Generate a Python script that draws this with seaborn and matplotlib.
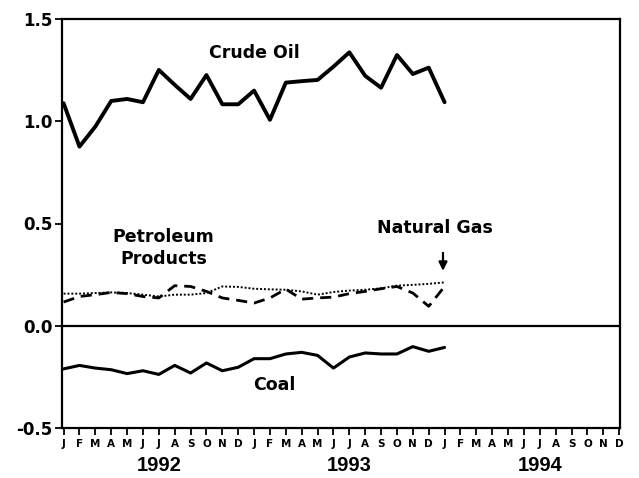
import pandas as pd
import matplotlib.pyplot as plt
import seaborn as sns
import numpy as np

# monthly values, Jan 1992 - Jan 1994
crude_oil = [1.088, 0.876, 0.974, 1.099, 1.109, 1.093, 1.251, 1.178, 1.109, 1.226,
             1.083, 1.083, 1.150, 1.007, 1.189, 1.196, 1.202, 1.267, 1.337, 1.222,
             1.164, 1.324, 1.231, 1.262, 1.093]
petroleum = [0.116, 0.143, 0.152, 0.163, 0.157, 0.143, 0.136, 0.196, 0.192, 0.168,
             0.136, 0.124, 0.111, 0.136, 0.179, 0.130, 0.136, 0.140, 0.157, 0.168,
             0.181, 0.192, 0.160, 0.095, 0.192]
natural_gas = [0.157, 0.157, 0.160, 0.163, 0.160, 0.152, 0.143, 0.152, 0.152, 0.160,
               0.192, 0.190, 0.181, 0.178, 0.176, 0.168, 0.152, 0.165, 0.172, 0.176,
               0.183, 0.196, 0.200, 0.205, 0.212]
coal = [-0.211, -0.194, -0.207, -0.215, -0.234, -0.220, -0.238, -0.194, -0.231, -0.182,
        -0.220, -0.203, -0.161, -0.161, -0.138, -0.130, -0.145, -0.207, -0.153, -0.133,
        -0.138, -0.138, -0.102, -0.125, -0.106]

month_letters = list("JFMAMJJASOND") * 3
years = ["1992", "1993", "1994"]

sns.set_style("ticks")
plt.rcParams['font.family'] = ['DejaVu Sans']
plt.rcParams['text.color'] = 'black'
plt.rcParams['xtick.color'] = 'black'
plt.rcParams['ytick.color'] = 'black'
plt.rcParams['axes.labelcolor'] = 'black'

months = np.arange(len(crude_oil))
df = pd.DataFrame({
    "month": months,
    "Crude Oil": crude_oil,
    "Petroleum Products": petroleum,
    "Natural Gas": natural_gas,
    "Coal": coal,
})

fig = plt.figure(figsize=(6.39, 4.78), dpi=100)
ax = fig.add_axes([62 / 639, 1 - 428 / 478, 558 / 639, 409 / 478])

sns.lineplot(data=df, x="month", y="Crude Oil", ax=ax, color="black", lw=2.8)
sns.lineplot(data=df, x="month", y="Coal", ax=ax, color="black", lw=2.2)
sns.lineplot(data=df, x="month", y="Petroleum Products", ax=ax, color="black",
             lw=2.0, linestyle=(0, (4, 2.5)))
sns.lineplot(data=df, x="month", y="Natural Gas", ax=ax, color="black",
             lw=1.4, linestyle=(0, (1, 1)))
ax.axhline(0, color="black", lw=1.6)

ax.set_xlim(-0.1, 35.05)
ax.set_ylim(-0.5, 1.5)
ax.set_yticks([-0.5, 0.0, 0.5, 1.0, 1.5])
ax.set_yticklabels(["-0.5", "0.0", "0.5", "1.0", "1.5"], fontsize=12, fontweight="bold")
ax.set_xticks(np.arange(36))
ax.set_xticklabels(month_letters, fontsize=7.5, fontweight="bold")
ax.tick_params(axis="both", direction="out", length=5, width=1.3, color="black")
ax.tick_params(axis="x", pad=3)
ax.tick_params(axis="y", pad=2)
ax.set_xlabel("")
ax.set_ylabel("")
for s in ax.spines.values():
    s.set_visible(True)
    s.set_linewidth(1.6)
    s.set_color("black")

for i, yr in enumerate(years):
    ax.text(6 + 12 * i, -0.682, yr, ha="center", va="center", fontsize=14.5,
            fontweight="bold", family=["Liberation Sans", "DejaVu Sans"])

ax.text(12, 1.334, "Crude Oil", ha="center", va="center", fontsize=12.5, fontweight="bold")
ax.text(6.3, 0.38, "Petroleum\nProducts", ha="center", va="center", fontsize=12.5,
        fontweight="bold", linespacing=1.25)
ax.text(23.4, 0.479, "Natural Gas", ha="center", va="center", fontsize=12.5, fontweight="bold")
ax.text(13.3, -0.29, "Coal", ha="center", va="center", fontsize=12.5, fontweight="bold")
ax.annotate("", xy=(23.9, 0.255), xytext=(23.9, 0.37),
            arrowprops=dict(arrowstyle="-|>,head_width=0.25,head_length=0.5",
                            color="black", lw=1.6))

fig.savefig("out.png", dpi=100)
